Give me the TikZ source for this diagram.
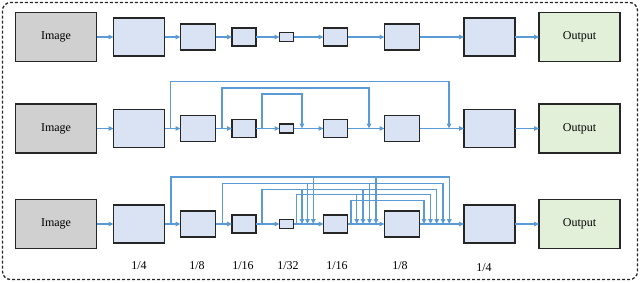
\documentclass[tikz,border=0pt]{standalone}
\usepackage{fontspec}
\setmainfont{Liberation Serif}
\usetikzlibrary{arrows.meta}
\definecolor{encfill}{HTML}{DAE3F3}
\definecolor{imgfill}{HTML}{D0D0D0}
\definecolor{outfill}{HTML}{E2F0D9}
\definecolor{arrblue}{HTML}{5B9BD5}
\definecolor{edgecol}{HTML}{262626}
\begin{document}
\begin{tikzpicture}[x=1pt,y=-1pt,
 box/.style={draw=edgecol, line width=1.6pt, inner sep=0pt, outer sep=0pt},
 feat/.style={box, fill=encfill},
 io/.style={box, minimum width=81pt, minimum height=49pt, font=\fontsize{12}{14}\selectfont},
 sa/.style={feat, minimum width=51pt, minimum height=38pt},
 sb/.style={feat, minimum width=35pt, minimum height=26pt},
 sc/.style={feat, minimum width=24pt, minimum height=18pt},
 sd/.style={feat, minimum width=14pt, minimum height=9pt},
 flow/.style={draw=arrblue, line width=1.3pt, -{Triangle[length=5pt,width=4.5pt]}},
 lab/.style={font=\fontsize{12}{14}\selectfont}
]
\useasboundingbox (0,0) rectangle (640,282);
\draw[edgecol, line width=1.3pt, dash pattern=on 3pt off 2pt, rounded corners=8pt] (2.5,2.5) rectangle (637.5,279.5);

\foreach \r/\y in {1/37,2/128.5,3/224}{
  \node[io, fill=imgfill] (img\r) at (56,\y) {Image};
  \node[sa] (a\r) at (139,\y) {};
  \node[sb] (b\r) at (198,\y) {};
  \node[sc] (c\r) at (244,\y) {};
  \node[sd] (d\r) at (286.5,\y) {};
  \node[sc] (e\r) at (335.5,\y) {};
  \node[sb] (f\r) at (402,\y) {};
  \node[sa] (g\r) at (489.5,\y) {};
  \node[io, fill=outfill] (out\r) at (579.5,\y) {Output};
  \draw[flow] (img\r) -- (a\r);
  \draw[flow] (a\r) -- (b\r);
  \draw[flow] (b\r) -- (c\r);
  \draw[flow] (c\r) -- (d\r);
  \draw[flow] (d\r) -- (e\r);
  \draw[flow] (e\r) -- (f\r);
  \draw[flow] (f\r) -- (g\r);
  \draw[flow] (g\r) -- (out\r);
}

% row 2 skip connections
\coordinate (r2s1) at (170.7,128.5);
\coordinate (r2s2) at (222,128.5);
\coordinate (r2s3) at (262,128.5);
\coordinate (r2d1) at (449,128.5);
\coordinate (r2d2) at (369,128.5);
\coordinate (r2d3) at (302,128.5);
\coordinate (h1) at (0,81.7);
\coordinate (h2) at (0,88);
\coordinate (h3) at (0,94);
\draw[flow] (r2s1) -- (r2s1 |- h1) -| (r2d1);
\draw[flow] (r2s2) -- (r2s2 |- h2) -| (r2d2);
\draw[flow] (r2s3) -- (r2s3 |- h3) -| (r2d3);

% row 3 dense connections
\coordinate (q1) at (171,224);
\coordinate (q2) at (222.5,224);
\coordinate (q3) at (262,224);
\coordinate (q4) at (296.7,224);
\coordinate (q5) at (351,224);
\coordinate (v1) at (0,177);
\coordinate (v2) at (0,183.5);
\coordinate (v3) at (0,189.5);
\coordinate (v4) at (0,194.5);
\coordinate (v5) at (0,200.5);
\coordinate (p31) at (313.3,224);
\coordinate (p32) at (307.5,224);
\coordinate (p33) at (302,224);
\coordinate (p21) at (376,224);
\coordinate (p22) at (369.5,224);
\coordinate (p23) at (363,224);
\coordinate (p24) at (356.7,224);
\coordinate (p11) at (449.3,224);
\coordinate (p12) at (443,224);
\coordinate (p13) at (436.7,224);
\coordinate (p14) at (430.5,224);
\coordinate (p15) at (424,224);
\draw[flow] (q1) -- (q1 |- v1) -| (p31);
\draw[flow] (q1) -- (q1 |- v1) -| (p21);
\draw[flow] (q1) -- (q1 |- v1) -| (p11);
\draw[flow] (q2) -- (q2 |- v2) -| (p32);
\draw[flow] (q2) -- (q2 |- v2) -| (p22);
\draw[flow] (q2) -- (q2 |- v2) -| (p12);
\draw[flow] (q3) -- (q3 |- v3) -| (p33);
\draw[flow] (q3) -- (q3 |- v3) -| (p23);
\draw[flow] (q3) -- (q3 |- v3) -| (p13);
\draw[flow] (q4) -- (q4 |- v4) -| (p24);
\draw[flow] (q4) -- (q4 |- v4) -| (p14);
\draw[flow] (q5) -- (q5 |- v5) -| (p15);

% scale labels
\node[lab] (l1) at (139,266) {1/4};
\node[lab] (l2) at (197,266) {1/8};
\node[lab] (l3) at (243,266) {1/16};
\node[lab] (l4) at (288,266) {1/32};
\node[lab] (l5) at (337,266) {1/16};
\node[lab] (l6) at (400,266) {1/8};
\node[lab] (l7) at (484,267.5) {1/4};
\end{tikzpicture}
\end{document}
